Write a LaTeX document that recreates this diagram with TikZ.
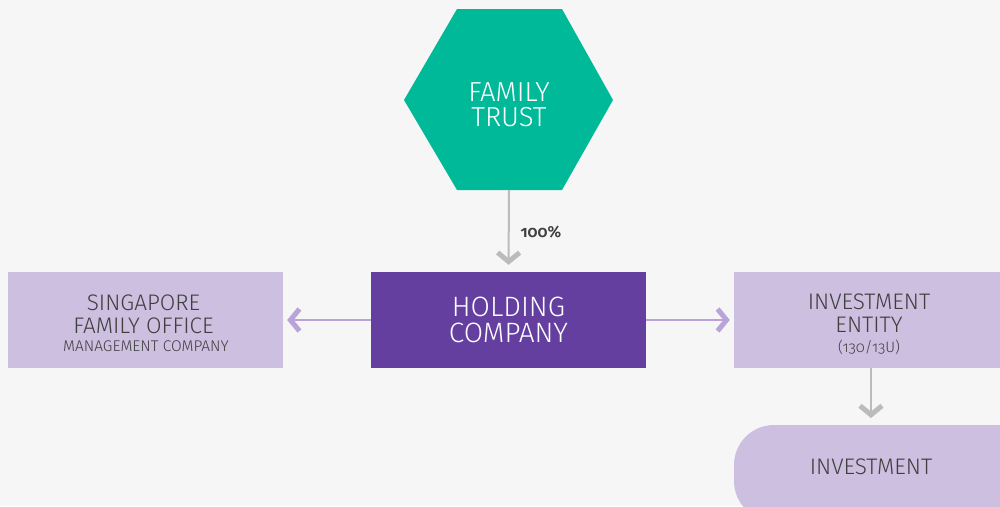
\documentclass[tikz,border=0pt]{standalone}
\usepackage{fontspec}
\setmainfont{Fira Sans Light}[Numbers=OldStyle,BoldFont={Fira Sans SemiBold}]
\usetikzlibrary{arrows.meta,shapes.geometric}
\definecolor{bgc}{HTML}{F6F6F6}
\definecolor{teal}{HTML}{00B999}
\definecolor{purp}{HTML}{643FA0}
\definecolor{lil}{HTML}{CDBFE0}
\definecolor{lilarrow}{HTML}{B9A3D8}
\definecolor{grayarrow}{HTML}{BBBBBB}
\definecolor{txt}{HTML}{3F3F3F}
\tikzset{
  lbox/.style={fill=lil,draw=none,text=txt,align=center,inner sep=0pt},
  garrow/.style={draw=grayarrow,line width=2pt,-{Straight Barb[length=9pt,width=22pt,line width=5pt]},shorten >=7pt},
  parrow/.style={draw=lilarrow,line width=1.6pt,-{Straight Barb[length=9pt,width=22pt,line width=5pt]},shorten >=4pt},
}
\begin{document}
\begin{tikzpicture}[x=1pt,y=-1pt]
\fill[bgc] (0,0) rectangle (1000,506);
\useasboundingbox (0,0) rectangle (1000,506);
% hexagon
\fill[teal] (404,100) -- (457,9) -- (562,9) -- (613,100) -- (562,190) -- (457,190) -- cycle;
\node[text=white,align=center,font=\fontsize{27.5}{25}\selectfont] (trust) at (509,105) {FAMILY\\TRUST};
\coordinate (trustb) at (509,190);
% holding
\node[fill=purp,minimum width=275pt,minimum height=96pt,inner sep=0pt,text=white,align=center,font=\fontsize{28}{26}\selectfont] (hold) at (508.5,320) {HOLDING\\COMPANY};
% left
\node[lbox,minimum width=275pt,minimum height=96pt] (sfo) at (145.5,320) {};
\node[text=txt,align=center,font=\fontsize{22.5}{23}\selectfont] (sfot) at (143.5,314) {SINGAPORE\\FAMILY OFFICE};
\node[text=txt,font=\fontsize{15.5}{15}\selectfont] (sfos) at (146,346) {MANAGEMENT COMPANY};
% right
\node[lbox,minimum width=290pt,minimum height=96pt] (ent) at (879,320) {};
\node[text=txt,align=center,font=\fontsize{22.5}{23}\selectfont] (entt) at (869,313) {INVESTMENT\\ENTITY};
\node[text=txt,font=\fontsize{15}{15}\selectfont] (ents) at (869,347) {(130/13U)};
% investment
\node[fill=lil,rounded corners=40pt,minimum width=320pt,minimum height=96pt,inner sep=0pt] (inv) at (894,473) {};
\node[text=txt,font=\fontsize{22.5}{23}\selectfont] (invt) at (871,467) {INVESTMENT};
% arrows
\draw[garrow] (trustb) -- (hold.north);
\node[text=txt,font=\bfseries\fontsize{16}{16}\selectfont,anchor=west] (pct) at (517,232) {100\%};
\draw[parrow] (hold.west) -- (sfo.east);
\draw[parrow] (hold.east) -- (ent.west);
\coordinate (entb) at (871,368);
\coordinate (invtop) at (871,425);
\draw[garrow] (entb) -- (invtop);
\end{tikzpicture}
\end{document}
